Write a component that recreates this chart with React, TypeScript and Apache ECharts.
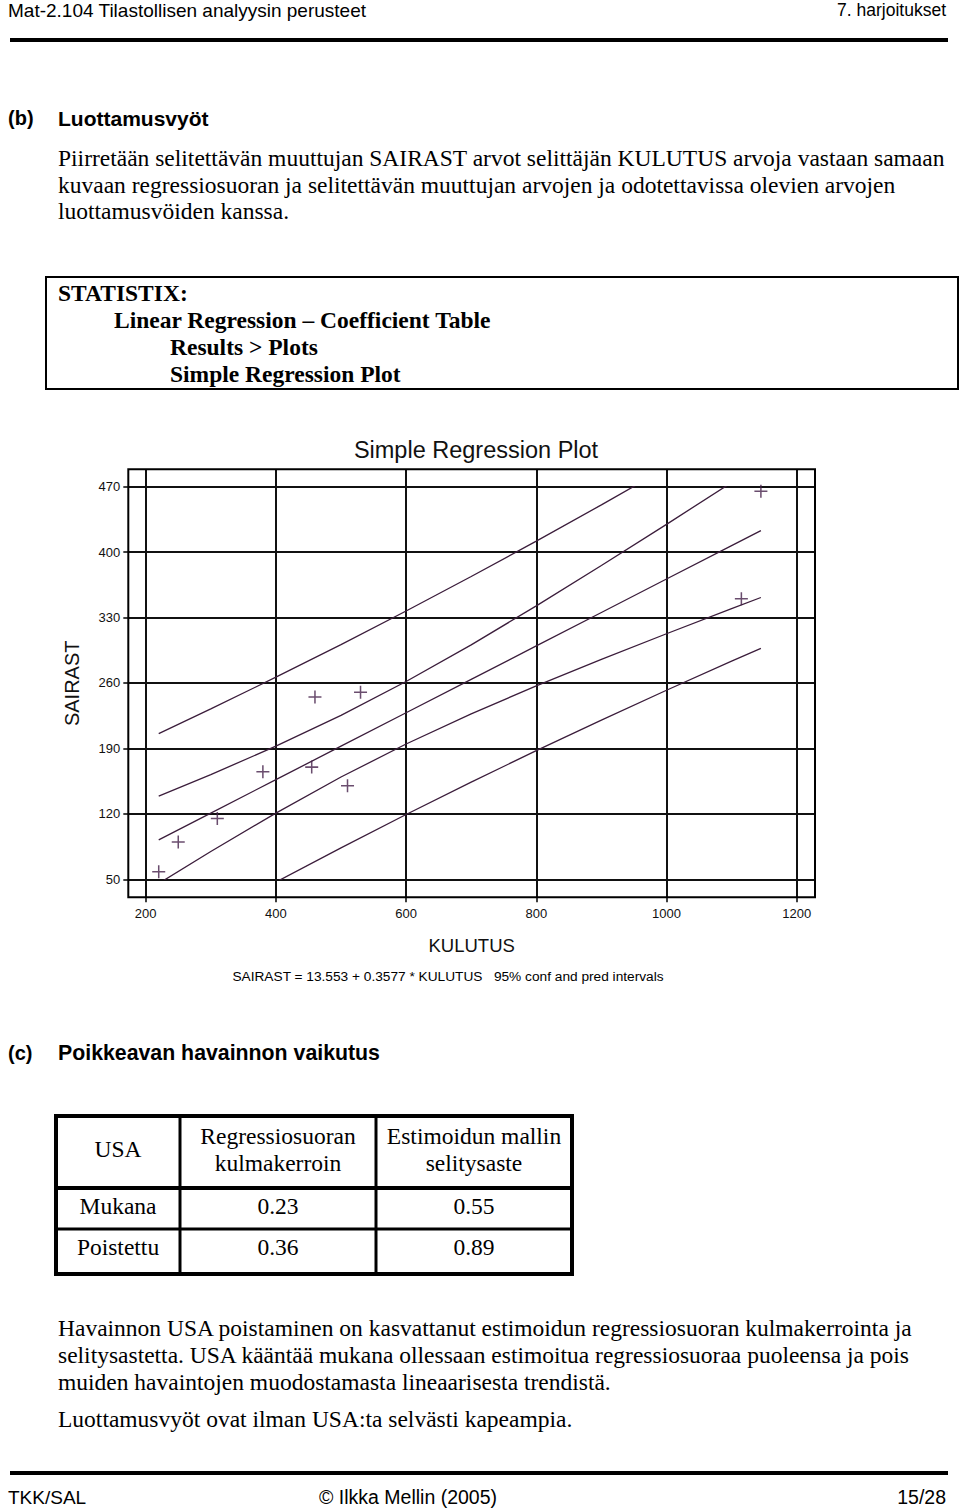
import React, { useEffect, useRef } from 'react';
import * as echarts from 'echarts';

// Observations (USA removed): cigarette consumption vs lung cancer deaths
const kulutus = [220, 250, 310, 380, 455, 460, 510, 530, 1115, 1145];
const sairast = [58, 90, 115, 165, 170, 245, 150, 250, 350, 465];

// Fitted line and 95% confidence / prediction bands, read at these KULUTUS values
const bandX = [220, 300, 400, 500, 600, 700, 800, 900, 1000, 1100, 1145];
const fitLine = [92.24, 120.85, 156.62, 192.39, 228.15, 263.92, 299.69, 335.46, 371.22, 406.99, 423.08];
const lowerConf = [45.54, 79.7, 120.83, 159.4, 194.74, 227.0, 256.91, 285.29, 312.7, 339.53, 351.46];
const upperConf = [138.94, 162.0, 192.41, 225.38, 261.56, 300.84, 342.47, 385.63, 429.74, 474.45, 494.7];
const lowerPred = [-21.39, 9.39, 47.02, 83.67, 119.31, 153.95, 187.61, 220.36, 252.25, 283.37, 297.14];
const upperPred = [205.87, 232.31, 266.22, 301.11, 336.99, 373.89, 411.77, 450.56, 490.19, 530.61, 549.02];

const xTicks = [200, 400, 600, 800, 1000, 1200];
const yTicks = [50, 120, 190, 260, 330, 400, 470];

const tableHead = ['USA', 'Regressiosuoran\nkulmakerroin', 'Estimoidun mallin\nselitysaste'];
const tableRows = ['Mukana', 'Poistettu'];
const slopeValues = ['0.23', '0.36'];
const r2Values = ['0.55', '0.89'];

const paraB = [
  'Piirretään selitettävän muuttujan SAIRAST arvot selittäjän KULUTUS arvoja vastaan samaan',
  'kuvaan regressiosuoran ja selitettävän muuttujan arvojen ja odotettavissa olevien arvojen',
  'luottamusvöiden kanssa.',
];
const boxLines = [
  'STATISTIX:',
  'Linear Regression – Coefficient Table',
  'Results > Plots',
  'Simple Regression Plot',
];
const paraC = [
  'Havainnon USA poistaminen on kasvattanut estimoidun regressiosuoran kulmakerrointa ja',
  'selitysastetta. USA kääntää mukana ollessaan estimoitua regressiosuoraa puoleensa ja pois',
  'muiden havaintojen muodostamasta lineaarisesta trendistä.',
];
const paraC2 = 'Luottamusvyöt ovat ilman USA:ta selvästi kapeampia.';

const SANS = 'Liberation Sans';
const SERIF = 'Liberation Serif';
const LINE_COLOR = '#3b1d3b';
const MARK_COLOR = '#45214a';
const BODY = 23.5;

function txt(text: string, x: number, y: number, size: number, family: string, opts: any = {}) {
  return {
    type: 'text',
    x,
    y,
    silent: true,
    style: {
      text,
      fontSize: size,
      fontFamily: family,
      fontWeight: opts.bold ? 'bold' : 'normal',
      fill: opts.fill || '#000',
      align: opts.align || 'left',
      verticalAlign: 'middle',
      lineHeight: opts.lineHeight,
    },
  };
}

function hline(x1: number, x2: number, y: number, w: number) {
  return { type: 'line', silent: true, shape: { x1, y1: y, x2, y2: y }, style: { stroke: '#000', lineWidth: w } };
}
function vline(x: number, y1: number, y2: number, w: number) {
  return { type: 'line', silent: true, shape: { x1: x, y1, x2: x, y2 }, style: { stroke: '#000', lineWidth: w } };
}

const zip = (xs: number[], ys: number[]) => xs.map((x, i) => [x, ys[i]]);

export default function App() {
  const ref = useRef<HTMLDivElement>(null);
  useEffect(() => {
    if (!ref.current) return;
    const chart = echarts.init(ref.current, null, { renderer: 'svg' });

    const graphics: any[] = [];
    // Header
    graphics.push(txt('Mat-2.104 Tilastollisen analyysin perusteet', 8, 10, 19, SANS));
    graphics.push(txt('7. harjoitukset', 946, 10, 17.5, SANS, { align: 'right' }));
    graphics.push({ type: 'rect', silent: true, shape: { x: 10, y: 38, width: 938, height: 4 }, style: { fill: '#000' } });
    // Section b
    graphics.push(txt('(b)', 8, 118, 20, SANS, { bold: true }));
    graphics.push(txt('Luottamusvyöt', 58, 118, 21, SANS, { bold: true }));
    paraB.forEach((l, i) => graphics.push(txt(l, 58, 158 + i * 26.5, BODY, SERIF)));
    // Box
    graphics.push({ type: 'rect', silent: true, shape: { x: 46, y: 277, width: 912, height: 112 }, style: { fill: 'none', stroke: '#000', lineWidth: 2 } });
    const boxX = [58, 114, 170, 170];
    boxLines.forEach((l, i) => graphics.push(txt(l, boxX[i], 293 + i * 27, BODY, SERIF, { bold: true })));
    // Chart box
    graphics.push({ type: 'rect', silent: true, z: 10, shape: { x: 128.3, y: 469.3, width: 686.7, height: 428 }, style: { fill: 'none', stroke: '#000', lineWidth: 2 } });
    graphics.push(txt('SAIRAST = 13.553 + 0.3577 * KULUTUS   95% conf and pred intervals', 448, 976, 13.7, SANS, { align: 'center' }));
    // Section c
    graphics.push(txt('(c)', 8, 1053, 20, SANS, { bold: true }));
    graphics.push(txt('Poikkeavan havainnon vaikutus', 58, 1053, 21.3, SANS, { bold: true }));
    // Table
    const colC = [118, 278, 474];
    graphics.push({ type: 'rect', silent: true, shape: { x: 56, y: 1116, width: 516, height: 158 }, style: { fill: 'none', stroke: '#000', lineWidth: 4 } });
    graphics.push(vline(180, 1116, 1274, 3));
    graphics.push(vline(376, 1116, 1274, 3));
    graphics.push(hline(56, 572, 1188, 4));
    graphics.push(hline(56, 572, 1229, 3));
    tableHead.forEach((h, i) => graphics.push(txt(h, colC[i], 1149, BODY, SERIF, { align: 'center', lineHeight: 27 })));
    tableRows.forEach((r, i) => {
      const y = 1206 + i * 41;
      graphics.push(txt(r, colC[0], y, BODY, SERIF, { align: 'center' }));
      graphics.push(txt(slopeValues[i], colC[1], y, BODY, SERIF, { align: 'center' }));
      graphics.push(txt(r2Values[i], colC[2], y, BODY, SERIF, { align: 'center' }));
    });
    paraC.forEach((l, i) => graphics.push(txt(l, 58, 1328 + i * 27, BODY, SERIF)));
    graphics.push(txt(paraC2, 58, 1419, BODY, SERIF));
    // Footer
    graphics.push({ type: 'rect', silent: true, shape: { x: 10, y: 1471, width: 938, height: 4 }, style: { fill: '#000' } });
    graphics.push(txt('TKK/SAL', 8, 1497, 19, SANS));
    graphics.push(txt('© Ilkka Mellin (2005)', 408, 1497, 19.5, SANS, { align: 'center' }));
    graphics.push(txt('15/28', 946, 1497, 19.5, SANS, { align: 'right' }));

    const lineSeries = (name: string, ys: number[]) => ({
      name,
      type: 'line',
      xAxisIndex: 1,
      yAxisIndex: 1,
      data: zip(bandX, ys),
      symbol: 'none',
      clip: true,
      silent: true,
      lineStyle: { color: LINE_COLOR, width: 1.3 },
      z: 5,
    });

    const option: any = {
      animation: false,
      backgroundColor: '#fff',
      textStyle: { fontFamily: SANS },
      title: {
        text: 'Simple Regression Plot',
        left: 471,
        top: 433,
        textAlign: 'center',
        textStyle: { fontSize: 23.5, fontWeight: 'normal', fontFamily: SANS, color: '#111' },
      },
      grid: [
        { left: 128.3, top: 469.3, width: 686.7, height: 428, containLabel: false },
        { left: 145.7, top: 486.7, width: 651, height: 392.6, containLabel: false },
      ],
      xAxis: [
        {
          type: 'value',
          gridIndex: 0,
          min: 173.27,
          max: 1228.1,
          name: 'KULUTUS',
          nameLocation: 'middle',
          nameGap: 39,
          nameTextStyle: { fontSize: 18.5, color: '#111', fontFamily: SANS },
          axisLine: { show: false },
          axisTick: { show: true, customValues: xTicks, length: 5, lineStyle: { color: '#000', width: 1.5 } },
          axisLabel: { customValues: xTicks, fontSize: 13, color: '#111', margin: 10, fontFamily: SANS, formatter: (v: number) => String(v) },
          splitLine: { show: false },
        },
        { type: 'value', gridIndex: 1, min: 200, max: 1200, show: false },
      ],
      yAxis: [
        {
          type: 'value',
          gridIndex: 0,
          min: 30.74,
          max: 488.6,
          name: 'SAIRAST',
          nameLocation: 'middle',
          nameGap: 46,
          nameTextStyle: { fontSize: 20, color: '#111', fontFamily: SANS },
          axisLine: { show: false },
          axisTick: { show: true, customValues: yTicks, length: 5, lineStyle: { color: '#000', width: 1.5 } },
          axisLabel: { customValues: yTicks, fontSize: 13, color: '#111', margin: 8, fontFamily: SANS, formatter: (v: number) => String(v) },
          splitLine: { show: false },
        },
        { type: 'value', gridIndex: 1, min: 50, max: 470, show: false },
      ],
      graphic: graphics,
      series: [
        {
          name: 'SAIRAST',
          type: 'scatter',
          xAxisIndex: 0,
          yAxisIndex: 0,
          data: zip(kulutus, sairast),
          symbol: 'path://M0,5.3H12V6.7H0Z M5.3,0H6.7V12H5.3Z',
          symbolSize: 13,
          itemStyle: { color: MARK_COLOR },
          silent: true,
          z: 6,
          markLine: {
            silent: true,
            symbol: ['none', 'none'],
            label: { show: false },
            lineStyle: { color: '#111', width: 2, type: 'solid' },
            data: [...xTicks.map((v) => ({ xAxis: v })), ...yTicks.map((v) => ({ yAxis: v }))],
            z: 1,
          },
        },
        lineSeries('upper pred', upperPred),
        lineSeries('upper conf', upperConf),
        lineSeries('fit', fitLine),
        lineSeries('lower conf', lowerConf),
        lineSeries('lower pred', lowerPred),
      ],
    };
    chart.setOption(option);
    return () => chart.dispose();
  }, []);

  return <div ref={ref} style={{ position: 'absolute', left: 0, top: 0, width: 960, height: 1510, background: '#fff' }} />;
}
